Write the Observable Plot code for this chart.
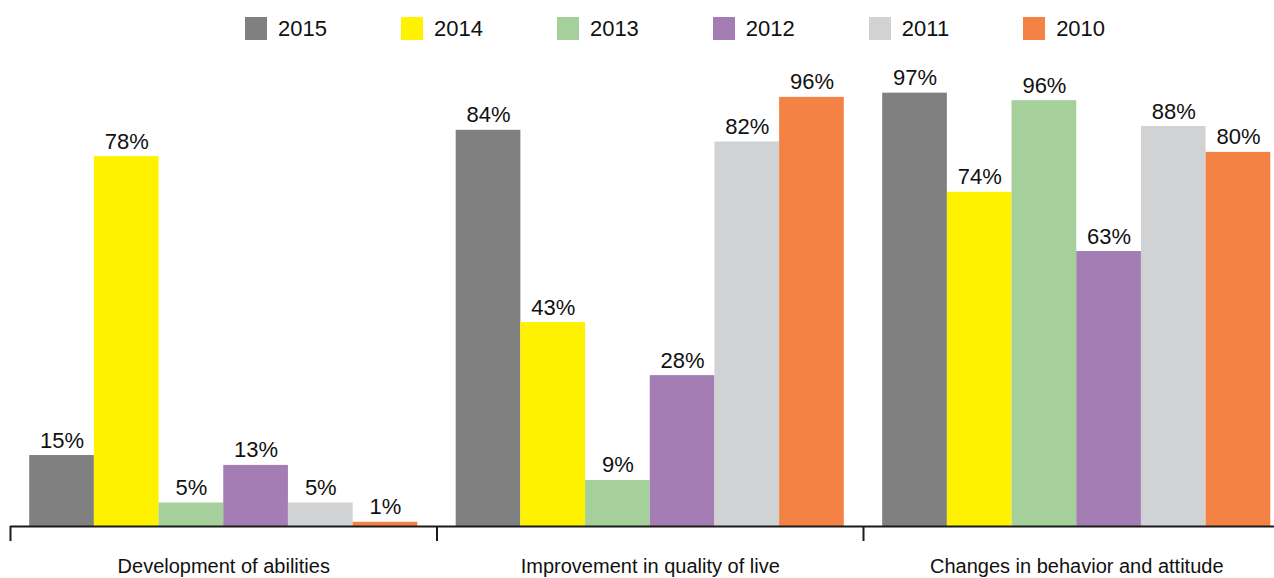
<!DOCTYPE html>
<html>
<head>
<meta charset="utf-8">
<script src="https://cdn.jsdelivr.net/npm/d3@7"></script>
<script src="https://cdn.jsdelivr.net/npm/@observablehq/plot@0.6"></script>
<style>
  html, body { margin: 0; padding: 0; background: #fff; overflow: hidden; }
  body { width: 1274px; height: 578px; font-family: "Liberation Sans", Arial, sans-serif; }
  #legend { height: 48px; display: flex; align-items: flex-start; padding-left: 245px; gap: 74px; box-sizing: border-box; }
  #legend .item { display: flex; align-items: center; margin-top: 17px; height: 23px; }
  #legend .sw { width: 22px; height: 23px; margin-right: 11px; }
  #legend .lab { font-size: 22px; color: #111; line-height: 23px; }
  #chart svg { display: block; overflow: hidden; }
</style>
</head>
<body>
<div id="legend"></div>
<div id="chart"></div>
<script>
const categories = ["Development of abilities", "Improvement in quality of live", "Changes in behavior and attitude"];
const years = ["2015", "2014", "2013", "2012", "2011", "2010"];
const colors = ["#808080", "#FFF200", "#A6D09B", "#A37DB3", "#D1D2D4", "#F58245"];

// printed percentages (per category, years 2015..2010)
const devLabels = [15, 78, 5, 13, 5, 1];
const qolLabels = [84, 43, 9, 28, 82, 96];
const behLabels = [97, 74, 96, 63, 88, 80];

// bar heights as drawn in the picture (same order)
const devBars = [15.1, 78.7, 5.0, 13.0, 5.0, 0.9];
const qolBars = [84.3, 43.4, 9.8, 32.1, 81.8, 91.3];
const behBars = [92.2, 71.1, 90.6, 58.5, 85.1, 79.6];

const labelSets = [devLabels, qolLabels, behLabels];
const barSets = [devBars, qolBars, behBars];

const pad = 0.045;
const bw = (1 - 2 * pad) / years.length;
const data = [];
categories.forEach((c, ci) => {
  years.forEach((y, yi) => {
    const x1 = ci + pad + yi * bw;
    data.push({category: c, year: y, x1, x2: x1 + bw, xm: x1 + bw / 2,
               value: barSets[ci][yi], label: labelSets[ci][yi] + "%"});
  });
});

// legend
const legend = document.getElementById("legend");
years.forEach((y, i) => {
  const it = document.createElement("div");
  it.className = "item";
  it.innerHTML = `<span class="sw" style="background:${colors[i]}"></span><span class="lab">${y}</span>`;
  legend.appendChild(it);
});

const chart = Plot.plot({
  width: 1274,
  height: 530,
  marginTop: 8,
  marginBottom: 52,
  marginLeft: 10,
  marginRight: -15.5,
  x: {domain: [0, categories.length], axis: null},
  y: {domain: [0, 100], axis: null},
  color: {domain: years, range: colors},
  style: {fontFamily: "Liberation Sans, Arial, sans-serif", background: "#fff"},
  marks: [
    Plot.rectY(data, {x1: "x1", x2: "x2", y: "value", fill: "year"}),
    Plot.ruleY([0], {stroke: "#1a1a1a", strokeWidth: 2}),
    Plot.ruleX(d3.range(categories.length + 1), {y1: 0, y2: -3.2, stroke: "#1a1a1a", strokeWidth: 2}),
    Plot.text(data, {x: "xm", y: "value", text: "label", dy: -8, lineAnchor: "bottom", fontSize: 22, fill: "#111"}),
    Plot.text(categories, {x: (d, i) => i + 0.5, y: () => 0, text: d => d, dy: 40, lineAnchor: "middle", fontSize: 20, fill: "#111"})
  ]
});
document.getElementById("chart").appendChild(chart);
</script>
</body>
</html>
